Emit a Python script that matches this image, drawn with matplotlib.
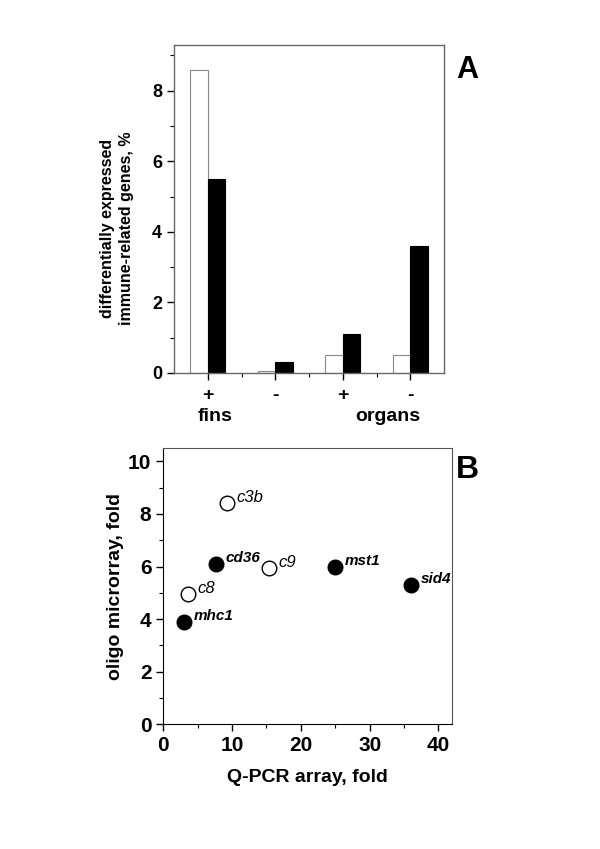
import numpy as np
import matplotlib.pyplot as plt
from matplotlib.ticker import MultipleLocator

plt.rcParams['font.family'] = ['Liberation Sans', 'DejaVu Sans']

# ---------- DATA ----------
# panel A: % differentially expressed immune-related genes
groups = ["+", "-", "+", "-"]
open_vals = [8.6, 0.05, 0.5, 0.5]
filled_vals = [5.5, 0.3, 1.1, 3.6]

# panel B: Q-PCR vs oligo microarray fold changes
filled_genes = ["mhc1", "cd36", "mst1", "sid4"]
filled_qpcr = [3.0, 7.7, 25.0, 36.0]
filled_oligo = [3.9, 6.1, 6.0, 5.3]

open_genes = ["c8", "c3b", "c9"]
open_qpcr = [3.6, 9.3, 15.4]
open_oligo = [4.95, 8.4, 5.95]

fig = plt.figure(figsize=(6.0, 8.49), dpi=100)

# ---------- PANEL A ----------
axA = fig.add_axes([0.29, 0.5607, 0.45, 0.3864])
x = np.arange(1, len(groups) + 1)
w = 0.26
axA.bar(x - w / 2, open_vals, width=w, color="white", edgecolor="#888888", linewidth=0.8)
axA.bar(x + w / 2, filled_vals, width=w, color="black", edgecolor="black", linewidth=0.8)
axA.set_xlim(0.5, 4.5)
axA.set_ylim(0, 9.3)
axA.set_xticks(x)
axA.set_xticklabels(groups, fontsize=14, fontweight="bold")
axA.set_xticks(x[:-1] + 0.5, minor=True)
axA.yaxis.set_major_locator(MultipleLocator(2))
axA.yaxis.set_minor_locator(MultipleLocator(1))
axA.tick_params(axis="y", labelsize=13, direction="out", length=5, width=1)
axA.tick_params(axis="x", direction="out", length=5, width=1, pad=5)
axA.tick_params(which="minor", direction="out", length=3, width=0.8)
for lab in axA.get_yticklabels():
    lab.set_fontweight("bold")
for s in axA.spines.values():
    s.set_color("#666666")
    s.set_linewidth(1)
axA.set_ylabel("differentially expressed\nimmune-related genes, %",
               fontsize=11.5, fontweight="bold", linespacing=1.3)
axA.yaxis.set_label_coords(-0.15, 0.44)
fig.text(215 / 600, 1 - 417 / 849, "fins", fontsize=14, fontweight="bold",
         ha="center", va="center")
fig.text(388 / 600, 1 - 417 / 849, "organs", fontsize=14, fontweight="bold",
         ha="center", va="center")
fig.text(467 / 600, 1 - 70 / 849, "A", fontsize=22, fontweight="bold",
         ha="center", va="center")

# ---------- PANEL B ----------
axB = fig.add_axes([0.272, 0.1472, 0.4817, 0.3247])
axB.plot(filled_qpcr, filled_oligo, "o", color="black", markersize=10.5, zorder=3)
axB.plot(open_qpcr, open_oligo, "o", markerfacecolor="white", markeredgecolor="black",
         markeredgewidth=1, markersize=10.5, zorder=3)
for g, xx, yy in zip(filled_genes, filled_qpcr, filled_oligo):
    axB.annotate(g, (xx, yy), xytext=(7, 4), textcoords="offset points",
                 fontsize=11, fontweight="bold", fontstyle="italic", va="center")
for g, xx, yy in zip(open_genes, open_qpcr, open_oligo):
    axB.annotate(g, (xx, yy), xytext=(7, 4), textcoords="offset points",
                 fontsize=12, fontstyle="italic", va="center")
axB.set_xlim(0, 42)
axB.set_ylim(0, 10.5)
axB.xaxis.set_major_locator(MultipleLocator(10))
axB.xaxis.set_minor_locator(MultipleLocator(5))
axB.yaxis.set_major_locator(MultipleLocator(2))
axB.yaxis.set_minor_locator(MultipleLocator(1))
axB.tick_params(labelsize=15, direction="out", length=5, width=1)
axB.tick_params(which="minor", direction="out", length=3, width=0.8)
for lab in axB.get_xticklabels() + axB.get_yticklabels():
    lab.set_fontweight("bold")
for side in ["top", "right"]:
    axB.spines[side].set_color("#555555")
axB.set_xlabel("Q-PCR array, fold", fontsize=14, fontweight="bold", labelpad=10)
axB.set_ylabel("oligo microrray, fold", fontsize=14, fontweight="bold", labelpad=3)
fig.text(467 / 600, 1 - 470 / 849, "B", fontsize=23, fontweight="bold",
         ha="center", va="center")

fig.savefig("out.png", dpi=100)
